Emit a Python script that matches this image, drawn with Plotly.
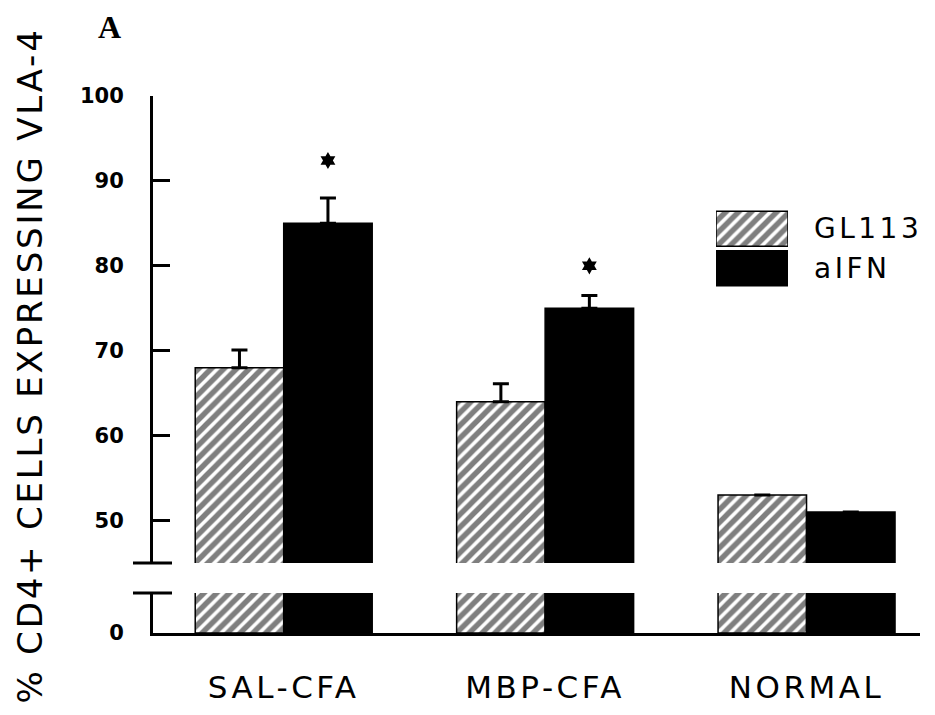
import plotly.graph_objects as go

# ---- data ----
groups = ["SAL-CFA", "MBP-CFA", "NORMAL"]
gl113 = [68, 64, 53]
gl113_err = [2.1, 2.1, None]
aifn = [85, 75, 51]
aifn_err = [3.0, 1.5, None]
sig_idx = [0, 1]            # groups with significant aIFN difference
sig_y = [92.4, 80.0]        # asterisk heights
series_names = ["GL113", "aIFN"]
upper_ticks = [50, 60, 70, 80, 90, 100]
lower_ticks = [0]

# ---- layout geometry (pixels; page has an 8px body margin) ----
PAGE_OFF = 8
W, H = 935 - PAGE_OFF, 715 - PAGE_OFF
L, T = 153 - PAGE_OFF, 96 - PAGE_OFF
R, B = 15, 82
pw, ph = W - L - R, H - T - B
upper_lo, upper_hi = 45, 100
px_per_unit = (563 - 96) / (upper_hi - upper_lo)
lower_hi = (633 - 593) / px_per_unit
upper_dom0 = (633 - 563) / ph
lower_dom1 = (633 - 593) / ph
xr = [-0.5, 2.434]
bargap = 0.323
bar_w = (1 - bargap) / 2

x = list(range(len(groups)))
hatch = dict(shape="/", fgcolor="black", bgcolor="white", size=9, solidity=0.6)
line = dict(color="black", width=1.5)
err_style = dict(type="data", symmetric=False, color="black", thickness=3, width=8)

fig = go.Figure()
for xa, ya, with_err in (("x", "y", True), ("x2", "y2", False)):
    fig.add_trace(go.Bar(
        x=x, y=gl113, name=series_names[0], xaxis=xa, yaxis=ya, showlegend=False,
        marker=dict(color="white", pattern=hatch, line=line),
        error_y=dict(array=gl113_err, arrayminus=[0] * 3, **err_style) if with_err else None,
    ))
    fig.add_trace(go.Bar(
        x=x, y=aifn, name=series_names[1], xaxis=xa, yaxis=ya, showlegend=False,
        marker=dict(color="black", line=line),
        error_y=dict(array=aifn_err, arrayminus=[0] * 3, **err_style) if with_err else None,
    ))

# significance asterisks
fig.add_trace(go.Scatter(
    x=[i + bar_w / 2 for i in sig_idx], y=sig_y, mode="markers", xaxis="x", yaxis="y",
    marker=dict(symbol="hexagram", size=13, color="black"), showlegend=False,
))

# legend swatches (separate mini axes)
fig.add_trace(go.Bar(
    y=[series_names[1]], x=[1], orientation="h", xaxis="x3", yaxis="y3", showlegend=False,
    marker=dict(color="black", line=line),
))
fig.add_trace(go.Bar(
    y=[series_names[0]], x=[1], orientation="h", xaxis="x3", yaxis="y3", showlegend=False,
    marker=dict(color="white", pattern=hatch, line=line),
))

tickfont = dict(family="DejaVu Sans", size=21, color="black", weight="bold")
fig.update_layout(
    width=W, height=H, margin=dict(l=L, r=R, t=T, b=B),
    paper_bgcolor="white", plot_bgcolor="white",
    barmode="group", bargap=bargap, bargroupgap=0,
    xaxis=dict(domain=[0, 1], anchor="y", range=xr, showline=False, showgrid=False,
               zeroline=False, showticklabels=False, ticks="", automargin=False),
    xaxis2=dict(domain=[0, 1], anchor="y2", range=xr, showline=True, linecolor="black",
                linewidth=3, showgrid=False, zeroline=False, ticks="", automargin=False,
                tickvals=x, ticktext=groups, ticklabelstandoff=25,
                tickfont=dict(family="DejaVu Sans", size=31, color="black")),
    yaxis=dict(domain=[upper_dom0, 1], anchor="x", range=[upper_lo, upper_hi],
               showline=True, linecolor="black", linewidth=3, showgrid=False, zeroline=False,
               ticks="inside", ticklen=17, tickwidth=2.5, tickcolor="black", automargin=False,
               tickvals=upper_ticks, tickfont=tickfont, ticklabelstandoff=22),
    yaxis2=dict(domain=[0, lower_dom1], anchor="x2", range=[0, lower_hi],
                showline=True, linecolor="black", linewidth=3, showgrid=False, zeroline=False,
                ticks="", tickvals=lower_ticks, tickfont=tickfont, ticklabelstandoff=22,
                automargin=False),
    xaxis3=dict(domain=[(716 - 153) / pw, (788 - 153) / pw], anchor="y3", range=[0, 1],
                visible=False, fixedrange=True, automargin=False),
    yaxis3=dict(domain=[(633 - 288) / ph, (633 - 209) / ph], anchor="x3",
                categoryorder="array", categoryarray=[series_names[1], series_names[0]],
                visible=False, fixedrange=True, automargin=False),
    showlegend=False,
)
fig.update_traces(selector=dict(xaxis="x3"), width=0.89)

# axis break marks
for yref in ("y domain", "y2 domain"):
    fig.add_shape(type="line", xref="paper", yref=yref,
                  x0=(133 - 153) / pw, x1=(172 - 153) / pw,
                  y0=0 if yref == "y domain" else 1, y1=0 if yref == "y domain" else 1,
                  line=dict(color="black", width=3))

# legend labels (annotation indices 0, 1)
for name in series_names:
    fig.add_annotation(text=name, xref="paper", yref="y3", x=(812 - 153) / pw, y=name,
                       xanchor="left", yanchor="middle", align="left", showarrow=False,
                       font=dict(family="DejaVu Sans", size=28, color="black"))

# y-axis title (annotation index 2)
fig.add_annotation(text="% CD4+ CELLS EXPRESSING VLA-4", textangle=-90,
                   xref="paper", yref="paper", x=(30 - 153) / pw, y=(633 - 366) / ph,
                   xanchor="center", yanchor="middle", showarrow=False,
                   font=dict(family="DejaVu Sans", size=34, color="black"))
# panel letter (annotation index 3)
fig.add_annotation(text="<b>A</b>", xref="paper", yref="paper",
                   x=(109 - 153) / pw, y=(633 - 27) / ph, xanchor="center", yanchor="middle",
                   showarrow=False,
                   font=dict(family="Liberation Serif", size=32, color="black"))

# the original lettering is widely spaced: add CSS letter-spacing to those texts
post = """
var gd = document.getElementById('{plot_id}');
function spaceText() {
  gd.querySelectorAll('.x2tick text').forEach(function (t) { t.style.letterSpacing = '3.5px'; });
  [['0', '3.5px'], ['1', '3.5px'], ['2', '2.8px']].forEach(function (p) {
    gd.querySelectorAll('g.annotation[data-index="' + p[0] + '"] text').forEach(function (t) {
      t.style.letterSpacing = p[1];
    });
  });
}
spaceText();
gd.on('plotly_afterplot', spaceText);
"""

fig.write_html("out.html", post_script=post)
